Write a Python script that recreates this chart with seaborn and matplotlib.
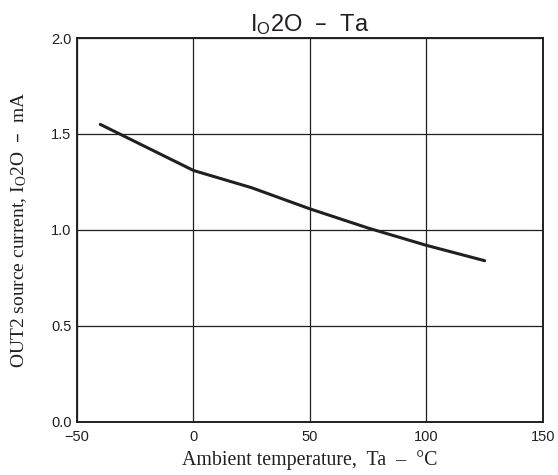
import matplotlib
matplotlib.use("Agg")
import matplotlib.pyplot as plt
import seaborn as sns
import pandas as pd

temperature = [-40, -20, 0, 25, 50, 75, 100, 125]
current = [1.55, 1.43, 1.31, 1.22, 1.11, 1.01, 0.92, 0.84]
x_ticks = [-50, 0, 50, 100, 150]
x_tick_labels = ["\u221250", "0", "50", "100", "150"]
y_ticks = [0.0, 0.5, 1.0, 1.5, 2.0]
y_tick_labels = ["0.0", "0.5", "1.0", "1.5", "2.0"]

sns.set_style("white")
plt.rcParams["font.family"] = ["Liberation Sans", "DejaVu Sans"]

df = pd.DataFrame({"Ta": temperature, "IO2O": current})

fig = plt.figure(figsize=(5.58, 4.75), dpi=100)
ax = fig.add_axes([0.138, 0.1116, 0.835, 0.8084])
sns.lineplot(data=df, x="Ta", y="IO2O", ax=ax, color="#231f20", linewidth=2.2)

ax.set_xlim(-50, 150)
ax.set_ylim(0, 2.0)
ax.set_xticks(x_ticks)
ax.set_xticklabels(x_tick_labels)
ax.set_yticks(y_ticks)
ax.set_yticklabels(y_tick_labels)
ax.tick_params(axis="x", length=0, labelsize=10.5, colors="#231f20", pad=6)
ax.tick_params(axis="y", length=0, labelsize=10.5, colors="#231f20", pad=4)
ax.grid(True, color="#231f20", linewidth=0.9)
for s in ax.spines.values():
    s.set_color("#231f20")
    s.set_linewidth(1.4)

ax.set_title("I$\\mathregular{_O}$2O  \u2013  Ta", fontsize=17, pad=5, color="#231f20")
ax.set_xlabel("Ambient temperature,  Ta  \u2013  \u00b0C", family=["Liberation Serif"],
              fontsize=14.3, color="#231f20", labelpad=4)
ax.set_ylabel("OUT2 source current, I$\\mathregular{_O}$2O  \u2013  mA", family=["Liberation Serif"],
              fontsize=14, color="#231f20", labelpad=16)

fig.savefig("out.png", dpi=100)
